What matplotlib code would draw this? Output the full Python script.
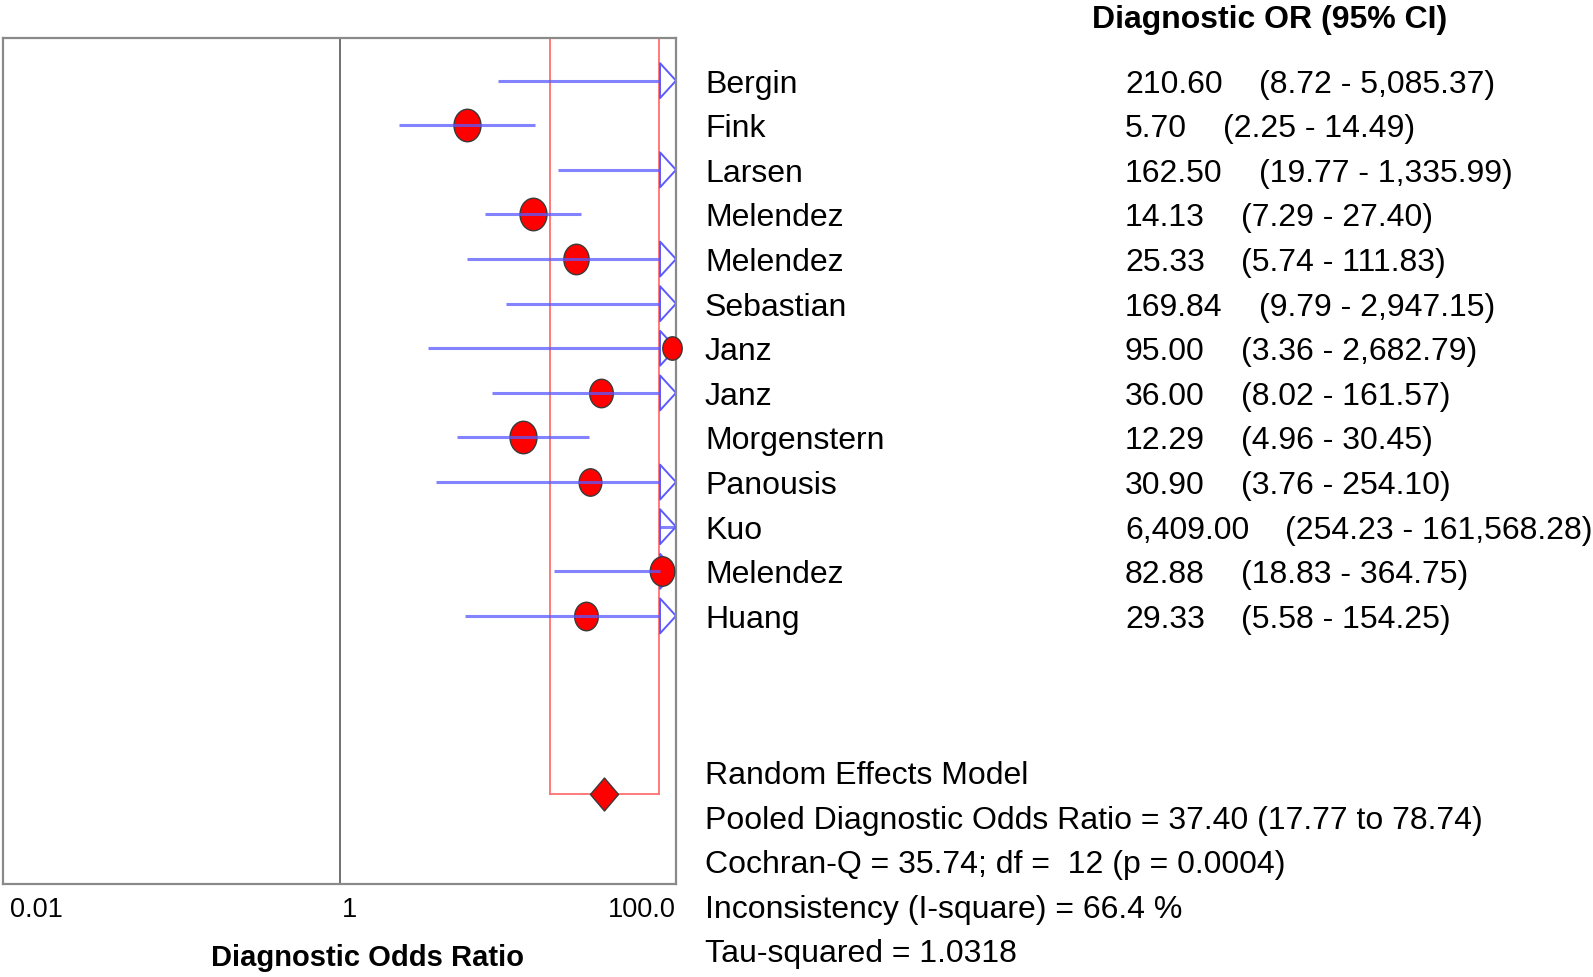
import numpy as np
import matplotlib
matplotlib.use("Agg")
import matplotlib.pyplot as plt
from matplotlib.path import Path
from matplotlib import transforms

plt.rcParams['font.family'] = ['Liberation Sans', 'DejaVu Sans']

# ---------------- data ----------------
studies = ["Bergin", "Fink", "Larsen", "Melendez", "Melendez", "Sebastian", "Janz",
           "Janz", "Morgenstern", "Panousis", "Kuo", "Melendez", "Huang"]
dor = [210.60, 5.70, 162.50, 14.13, 25.33, 169.84, 95.00, 36.00, 12.29, 30.90,
       6409.00, 82.88, 29.33]
ci_low = [8.72, 2.25, 19.77, 7.29, 5.74, 9.79, 3.36, 8.02, 4.96, 3.76, 254.23, 18.83, 5.58]
ci_high = [5085.37, 14.49, 1335.99, 27.40, 111.83, 2947.15, 2682.79, 161.57, 30.45,
           254.10, 161568.28, 364.75, 154.25]
weight = [22, 32.5, 26, 32.5, 30.5, 22, 23.4, 28.5, 32.5, 27.4, 18, 29.5, 28.5]

dor_labels = ["210.60", "5.70", "162.50", "14.13", "25.33", "169.84", "95.00", "36.00",
              "12.29", "30.90", "6,409.00", "82.88", "29.33"]
ci_labels = ["(8.72 - 5,085.37)", "(2.25 - 14.49)", "(19.77 - 1,335.99)", "(7.29 - 27.40)",
             "(5.74 - 111.83)", "(9.79 - 2,947.15)", "(3.36 - 2,682.79)", "(8.02 - 161.57)",
             "(4.96 - 30.45)", "(3.76 - 254.10)", "(254.23 - 161,568.28)",
             "(18.83 - 364.75)", "(5.58 - 154.25)"]

pooled = 37.40
pooled_low = 17.77
pooled_high = 78.74

stats_lines = ["Random Effects Model",
               "Pooled Diagnostic Odds Ratio = 37.40 (17.77 to 78.74)",
               "Cochran-Q = 35.74; df =  12 (p = 0.0004)",
               "Inconsistency (I-square) = 66.4 %",
               "Tau-squared = 1.0318"]

xticks = [0.01, 1, 100]
xtick_labels = ["0.01", "1", "100.0"]

# ---------------- figure ----------------
W, H = 1593, 978
fig = plt.figure(figsize=(W / 100, H / 100), dpi=100)
ax_l, ax_r, ax_t, ax_b = 3, 676, 39, 885
ax = fig.add_axes([ax_l / W, 1 - ax_b / H, (ax_r - ax_l) / W, (ax_b - ax_t) / H])
ax.set_xscale('log')
xmin, xmax = 0.01, 100
ax.set_xlim(xmin, xmax)
ax.set_ylim(18.01, -0.956)
ax.yaxis.set_visible(False)
for sp in ax.spines.values():
    sp.set_color('#8a8a8a')
    sp.set_linewidth(1.6)

ax.set_xticks(xticks)
ax.set_xticklabels(xtick_labels)
ax.xaxis.set_minor_locator(matplotlib.ticker.NullLocator())
ax.tick_params(axis='x', length=0, pad=9, labelsize=19.5)
shifts = [7, 2, 0]
for lab, ha, dx in zip(ax.get_xticklabels(), ['left', 'left', 'right'], shifts):
    lab.set_ha(ha)
    lab.set_transform(lab.get_transform() +
                      transforms.ScaledTranslation(dx / 100, 0, fig.dpi_scale_trans))

ax.set_xlabel("Diagnostic Odds Ratio", fontsize=21, fontweight='bold')
ax.xaxis.label.set_va('center')
ax.xaxis.set_label_coords((367 - ax_l) / (ax_r - ax_l), (ax_b - 958) / (ax_b - ax_t))

# reference line at 1
ax.axvline(1, color='#707070', lw=1.4, zorder=1)

# pooled CI box (red)
n = len(studies)
y_pool = 16.0
red = '#ff7070'
ax.plot([pooled_low, pooled_low], [-0.956, y_pool], color=red, lw=1.3, zorder=1, clip_on=False)
ax.plot([pooled_high, pooled_high], [-0.956, y_pool], color=red, lw=1.3, zorder=1, clip_on=False)
ax.plot([pooled_low, pooled_high], [y_pool, y_pool], color=red, lw=1.3, zorder=1)

# markers
circ = Path.unit_circle()
ell = Path(circ.vertices * np.array([0.83, 1.0]), circ.codes)
diam = Path([(0, -1), (0.85, 0), (0, 1), (-0.85, 0), (0, -1)],
            [Path.MOVETO, Path.LINETO, Path.LINETO, Path.LINETO, Path.CLOSEPOLY])
arrow_w, arrow_h = 16.0, 35.0
tri = Path([(-arrow_w, -arrow_h / 2), (0, 0), (-arrow_w, arrow_h / 2), (-arrow_w, -arrow_h / 2)],
           [Path.MOVETO, Path.LINETO, Path.LINETO, Path.CLOSEPOLY])

px_per_decade = (ax_r - ax_l) / (np.log10(xmax) - np.log10(xmin))
x_arrow_base = xmax / 10 ** (arrow_w / px_per_decade)
pt = 72 / 100.0

blue = '#5a5aff'
rows = np.arange(n)
for i in range(n):
    hi = ci_high[i]
    arrow = hi > xmax
    end = min(hi, x_arrow_base) if arrow else hi
    ax.plot([ci_low[i], end], [rows[i], rows[i]], color=blue, lw=2.2, alpha=0.75, zorder=4,
            solid_capstyle='butt')
    if arrow:
        ax.scatter([xmax], [rows[i]], marker=tri, s=(arrow_h * pt) ** 2,
                   facecolor='none', edgecolor=blue, linewidths=1.4, zorder=2, clip_on=False)
    if dor[i] <= xmax:
        ax.scatter([dor[i]], [rows[i]], marker=ell, s=(weight[i] * pt) ** 2,
                   facecolor='#ff0000', edgecolor='#3a3a3a', linewidths=1.0, zorder=3,
                   clip_on=False)

ax.scatter([pooled], [y_pool], marker=diam, s=(33 * pt) ** 2, facecolor='#ff0000',
           edgecolor='#3a3a3a', linewidths=1.0, zorder=5)

# ---------------- text columns ----------------
down = transforms.ScaledTranslation(0, -3 / 100, fig.dpi_scale_trans)
trans = transforms.blended_transform_factory(fig.transFigure, ax.transData) + down
fs = 23
x_name = 705 / W
x_val = 1125 / W
for i in range(n):
    ax.text(x_name, rows[i], studies[i], transform=trans, fontsize=fs, ha='left',
            va='center', clip_on=False)
    t = ax.text(x_val, rows[i], dor_labels[i], transform=trans, fontsize=fs, ha='left',
                va='center', clip_on=False)
    ax.annotate(ci_labels[i], xy=(1, 0.5), xycoords=t,
                xytext=(26, 0), textcoords='offset points', fontsize=fs,
                ha='left', va='center', annotation_clip=False)

for k, line in enumerate(stats_lines):
    ax.text(x_name, 15.5 + k, line, transform=trans, fontsize=fs, ha='left',
            va='center', clip_on=False)

fig.text(1270 / W, 1 - 20 / H, "Diagnostic OR (95% CI)", fontsize=23, fontweight='bold',
         ha='center', va='center')

fig.savefig("out.png", dpi=100)
